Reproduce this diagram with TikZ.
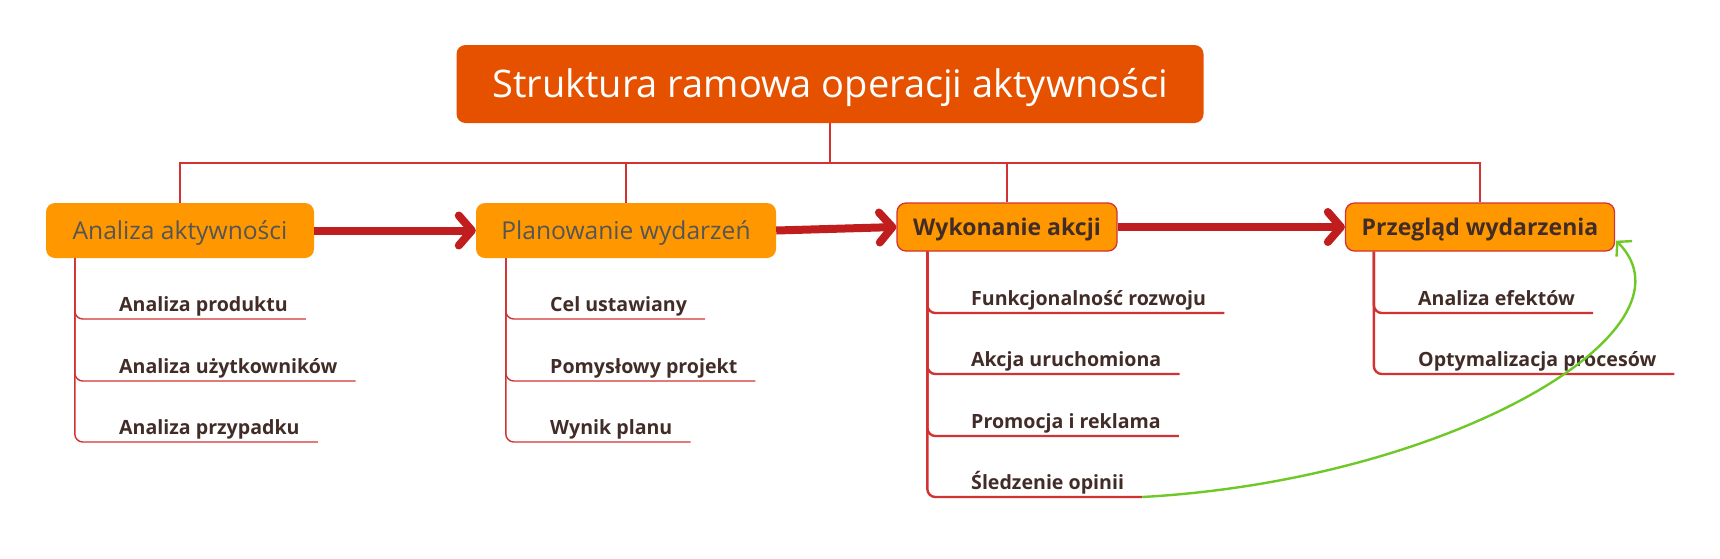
\documentclass[tikz,border=0pt]{standalone}
\usepackage{fontspec}
\setmainfont{Open Sans}
\usepackage{xcolor}
\usepackage{tikz}
\usetikzlibrary{arrows.meta,calc}
\definecolor{rootorange}{RGB}{230,81,0}
\definecolor{mainorange}{RGB}{255,152,0}
\definecolor{linered}{RGB}{210,50,50}
\definecolor{arrowred}{RGB}{192,30,30}
\definecolor{textgrey}{RGB}{85,85,85}
\definecolor{textbrown}{RGB}{66,44,40}
\definecolor{loopgreen}{RGB}{110,200,40}

\begin{document}
\begin{tikzpicture}[x=1pt,y=-1pt,
		rootbox/.style={fill=rootorange,rounded corners=9pt,text=white,minimum width=747pt,minimum height=78pt,text height=27pt,text depth=0pt,font=\fontsize{38}{44}\selectfont},
		mainbox/.style={fill=mainorange,rounded corners=9pt,text=textgrey,minimum height=55pt,text height=17.6pt,text depth=0pt,font=\fontsize{24.6}{28}\selectfont},
		boldbox/.style={fill=mainorange,draw=linered,line width=1.3pt,rounded corners=9pt,text=textbrown,minimum height=48pt,text height=16.4pt,text depth=0pt,font=\fontsize{23}{28}\selectfont\bfseries},
		leaf/.style={anchor=south west,inner xsep=0pt,inner ysep=7pt,text depth=0pt,text=textbrown,font=\fontsize{19.6}{24}\selectfont\bfseries},
		treeline/.style={draw=linered,line width=2pt},
		leafline/.style={draw=linered,line width=1.4pt,rounded corners=8pt},
		boldleafline/.style={draw=linered,line width=2.4pt,rounded corners=8pt},
		flow/.style={draw=arrowred,line width=8pt,-{Straight Barb[length=13pt,width=30pt,round]}},
		loopline/.style={draw=loopgreen,line width=2.4pt,-{Straight Barb[length=10pt,width=22pt]}}]
			\useasboundingbox (0,0) rectangle (1720,558);
			
			\node[rootbox] (root) at (830,84) {Struktura ramowa operacji aktywności};
			
			\node[mainbox,minimum width=268pt] (ana) at (180,230.5) {Analiza aktywności};
			\node[mainbox,minimum width=300pt] (plan) at (626,230.5) {Planowanie wydarzeń};
			\node[boldbox,minimum width=220pt] (wyk) at (1007,227) {Wykonanie akcji};
			\node[boldbox,minimum width=269pt] (prz) at (1480,227) {Przegląd wydarzenia};
			
			% drzewo
			\coordinate (bar) at (830,163);
			\draw[treeline] (root.south) -- (bar);
			\draw[treeline] (bar) -| (ana.north);
			\draw[treeline] (bar) -| (plan.north);
			\draw[treeline] (bar) -| (wyk.north);
			\draw[treeline] (bar) -| (prz.north);
			
			% strzalki
			\draw[flow] (ana.east) -- (plan.west);
			\draw[flow] (plan.east) -- (wyk.west);
			\draw[flow] (wyk.east) -- (prz.west);
			
			% Analiza aktywnosci
			\coordinate (ana0) at ($(ana.south west)+(29,0)$);
			\node[leaf] (ana1) at (119,319) {Analiza produktu};
			\node[leaf] (ana2) at (119,381) {Analiza użytkowników};
			\node[leaf] (ana3) at (119,442) {Analiza przypadku};
			\draw[leafline] (ana0) |- ($(ana1.south east)+(18,0)$);
			\draw[leafline] (ana0) |- ($(ana2.south east)+(18,0)$);
			\draw[leafline] (ana0) |- ($(ana3.south east)+(18,0)$);
			
			% Planowanie wydarzen
			\coordinate (plan0) at ($(plan.south west)+(30,0)$);
			\node[leaf] (plan1) at (550,319) {Cel ustawiany};
			\node[leaf] (plan2) at (550,381) {Pomysłowy projekt};
			\node[leaf] (plan3) at (550,442) {Wynik planu};
			\draw[leafline] (plan0) |- ($(plan1.south east)+(18,0)$);
			\draw[leafline] (plan0) |- ($(plan2.south east)+(18,0)$);
			\draw[leafline] (plan0) |- ($(plan3.south east)+(18,0)$);
			
			% Wykonanie akcji
			\coordinate (wyk0) at ($(wyk.south west)+(31,0)$);
			\node[leaf] (wyk1) at (971,313) {Funkcjonalność rozwoju};
			\node[leaf] (wyk2) at (971,374) {Akcja uruchomiona};
			\node[leaf] (wyk3) at (971,436) {Promocja i reklama};
			\node[leaf] (wyk4) at (971,497) {Śledzenie opinii};
			\draw[boldleafline] (wyk0) |- ($(wyk1.south east)+(18,0)$);
			\draw[boldleafline] (wyk0) |- ($(wyk2.south east)+(18,0)$);
			\draw[boldleafline] (wyk0) |- ($(wyk3.south east)+(18,0)$);
			\coordinate (wyk4end) at ($(wyk4.south east)+(18,0)$);
			\draw[boldleafline] (wyk0) |- (wyk4end);
			
			% Przeglad wydarzenia
			\coordinate (prz0) at ($(prz.south west)+(29,0)$);
			\node[leaf] (prz1) at (1418,313) {Analiza efektów};
			\node[leaf] (prz2) at (1418,374) {Optymalizacja procesów};
			\draw[boldleafline] (prz0) |- ($(prz1.south east)+(18,0)$);
			\draw[boldleafline] (prz0) |- ($(prz2.south east)+(18,0)$);
			
			% petla
			\coordinate (przin) at ($(prz.south east)+(1,-11)$);
			\draw[loopline] (wyk4end) .. controls (1450,480) and (1705,330) .. (przin);
			
		\end{tikzpicture}
\end{document}
